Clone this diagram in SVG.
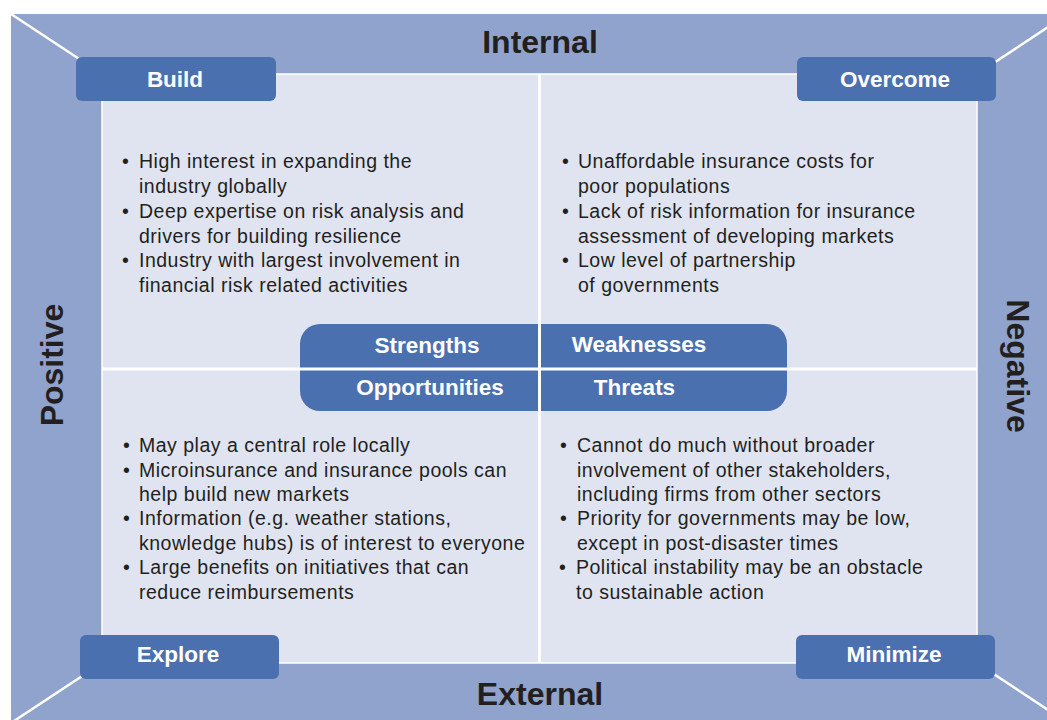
<svg xmlns="http://www.w3.org/2000/svg" width="1047" height="720" viewBox="0 0 1047 720">
<style>
.frame{fill:#8fa3cd}
.panel{fill:#dfe4f0;stroke:#ffffff;stroke-width:1.5}
.box{fill:#4a70b0}
.lbl{font-family:"Liberation Sans",Arial,sans-serif;font-weight:bold;font-size:22.5px;fill:#ffffff;text-anchor:middle}
.axis{font-family:"Liberation Sans",Arial,sans-serif;font-weight:bold;font-size:32px;fill:#231f20;text-anchor:middle}
.body{font-family:"Liberation Sans",Arial,sans-serif;font-size:19.5px;fill:#231f20;letter-spacing:0.5px}
.wl{stroke:#ffffff;fill:none}
</style>
<rect width="1047" height="720" fill="#ffffff"/>
<rect class="frame" x="11" y="14" width="1070" height="720"/>
<rect class="panel" x="102" y="74" width="875" height="589"/>
<g id="connectors">
<line class="wl" stroke-width="2.5" x1="11" y1="14" x2="102" y2="74"/>
<line class="wl" stroke-width="2.5" x1="1068" y1="14" x2="977" y2="74"/>
<line class="wl" stroke-width="2.5" x1="11" y1="723" x2="102" y2="663"/>
<line class="wl" stroke-width="2.5" x1="1068" y1="723" x2="977" y2="663"/>
</g>
<g id="axes">
<text class="axis" x="540" y="53">Internal</text>
<text class="axis" x="540" y="705">External</text>
<text class="axis" transform="translate(63,365) rotate(-90)">Positive</text>
<text class="axis" transform="translate(1007,366) rotate(90)">Negative</text>
</g>
<g id="center">
<rect class="box" x="300" y="324" width="487" height="87" rx="20"/>
</g>
<line class="wl" stroke-width="3" x1="539.5" y1="74" x2="539.5" y2="663"/>
<line class="wl" stroke-width="3" x1="102" y1="369" x2="977" y2="369"/>
<g id="center-labels">
<text class="lbl" x="427" y="353">Strengths</text>
<text class="lbl" x="639" y="351.5">Weaknesses</text>
<text class="lbl" x="430" y="395">Opportunities</text>
<text class="lbl" x="634.5" y="395">Threats</text>
</g>
<g id="build">
<rect class="box" x="76" y="57" width="200" height="44" rx="6"/>
<text class="lbl" x="175" y="87">Build</text>
</g>
<g id="overcome">
<rect class="box" x="797" y="57" width="199" height="44" rx="6"/>
<text class="lbl" x="895" y="87">Overcome</text>
</g>
<g id="explore">
<rect class="box" x="80" y="635" width="199" height="44" rx="6"/>
<text class="lbl" x="178" y="662">Explore</text>
</g>
<g id="minimize">
<rect class="box" x="796" y="635" width="199" height="44" rx="6"/>
<text class="lbl" x="894" y="662">Minimize</text>
</g>
<g id="strengths-text" class="body">
<text x="122" y="168.3">•</text><text x="139" y="168.3">High interest in expanding the</text>
<text x="139" y="193.3">industry globally</text>
<text x="122" y="218.3">•</text><text x="139" y="218.3">Deep expertise on risk analysis and</text>
<text x="139" y="242.7">drivers for building resilience</text>
<text x="122" y="266.7">•</text><text x="139" y="266.7">Industry with largest involvement in</text>
<text x="139" y="291.7">financial risk related activities</text>
</g>
<g id="weaknesses-text" class="body">
<text x="562" y="168.3">•</text><text x="578" y="168.3">Unaffordable insurance costs for</text>
<text x="578" y="193.3">poor populations</text>
<text x="562" y="218.3">•</text><text x="578" y="218.3">Lack of risk information for insurance</text>
<text x="578" y="242.7">assessment of developing markets</text>
<text x="562" y="266.7">•</text><text x="578" y="266.7">Low level of partnership</text>
<text x="578" y="291.7">of governments</text>
</g>
<g id="opportunities-text" class="body">
<text x="123" y="452">•</text><text x="139" y="452">May play a central role locally</text>
<text x="123" y="476.7">•</text><text x="139" y="476.7">Microinsurance and insurance pools can</text>
<text x="139" y="501">help build new markets</text>
<text x="123" y="525.3">•</text><text x="139" y="525.3">Information (e.g. weather stations,</text>
<text x="139" y="550">knowledge hubs) is of interest to everyone</text>
<text x="123" y="574.3">•</text><text x="139" y="574.3">Large benefits on initiatives that can</text>
<text x="139" y="598.5">reduce reimbursements</text>
</g>
<g id="threats-text" class="body">
<text x="560" y="452.3">•</text><text x="577" y="452.3">Cannot do much without broader</text>
<text x="577" y="476.7">involvement of other stakeholders,</text>
<text x="577" y="501">including firms from other sectors</text>
<text x="560" y="525.3">•</text><text x="577" y="525.3">Priority for governments may be low,</text>
<text x="577" y="550">except in post-disaster times</text>
<text x="559" y="574.3">•</text><text x="576" y="574.3">Political instability may be an obstacle</text>
<text x="576" y="598.5">to sustainable action</text>
</g>
</svg>
